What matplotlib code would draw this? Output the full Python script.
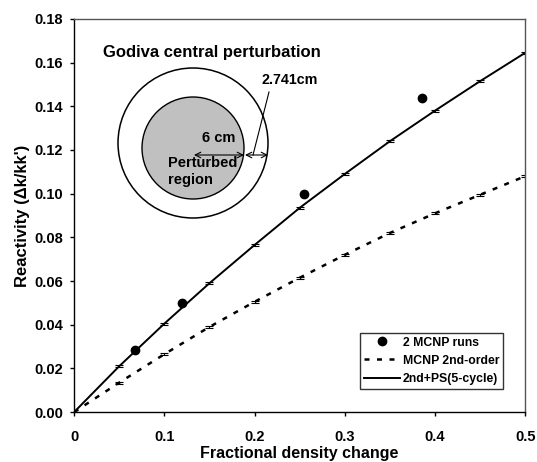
import numpy as np
import matplotlib
matplotlib.use("Agg")
import matplotlib.pyplot as plt
from matplotlib.patches import Circle

plt.rcParams['font.family'] = ['Liberation Sans', 'DejaVu Sans']
plt.rcParams['font.weight'] = 'bold'

# data
frac = [0.0, 0.05, 0.1, 0.15, 0.2, 0.25, 0.3, 0.35, 0.4, 0.45, 0.5]
ps5 = [0.0, 0.021, 0.0405, 0.059, 0.0765, 0.0935, 0.109, 0.124, 0.138, 0.1515, 0.1645]
second = [0.0, 0.0135, 0.0265, 0.039, 0.0505, 0.0615, 0.072, 0.082, 0.091, 0.0995, 0.108]
err = [0.0, 0.0005, 0.0005, 0.0005, 0.0005, 0.0005, 0.0005, 0.0005, 0.0005, 0.0005, 0.0005]
mcnp_x = [0.067, 0.12, 0.255, 0.386]
mcnp_y = [0.0285, 0.050, 0.100, 0.1437]

fig = plt.figure(figsize=(5.37, 4.62), dpi=100)
ax = fig.add_axes([0.138, 0.108, 0.840, 0.851])

p1, = ax.plot(mcnp_x, mcnp_y, 'o', color='black', markersize=6, zorder=5)
ax.errorbar(frac, second, yerr=err, fmt='none', ecolor='black', elinewidth=0.8, capsize=3, capthick=0.8)
p2, = ax.plot(frac, second, color='black', lw=1.8, dashes=(2, 3))
ax.errorbar(frac, ps5, yerr=err, fmt='none', ecolor='black', elinewidth=0.8, capsize=3, capthick=0.8)
p3, = ax.plot(frac, ps5, color='black', lw=1.4)

ax.set_xlim(0, 0.5)
ax.set_ylim(0, 0.18)
ax.set_xticks([0, 0.1, 0.2, 0.3, 0.4, 0.5])
ax.set_xticklabels(["0", "0.1", "0.2", "0.3", "0.4", "0.5"])
ax.set_yticks(np.arange(0, 0.181, 0.02))
ax.set_yticklabels(["%.2f" % v for v in np.arange(0, 0.181, 0.02)])
ax.tick_params(labelsize=10.5, length=3, width=1)
ax.tick_params(axis='x', pad=10)
ax.tick_params(axis='y', pad=5)
for lab in ax.get_xticklabels() + ax.get_yticklabels():
    lab.set_fontweight('bold')
for s in ax.spines.values():
    s.set_linewidth(1)
ax.spines['top'].set_color('#555555')
ax.spines['right'].set_color('#555555')
ax.set_xlabel("Fractional density change", fontsize=11.5, fontweight='bold', labelpad=1)
ax.set_ylabel("Reactivity (\u0394k/kk')", fontsize=12, fontweight='bold', labelpad=3)

leg = ax.legend([p1, p2, p3], ["2 MCNP runs", "MCNP 2nd-order", "2nd+PS(5-cycle)"],
                loc='lower right', bbox_to_anchor=(0.951, 0.06), fontsize=8.8, frameon=True,
                fancybox=False, edgecolor='black', handlelength=3.0, borderpad=0.3,
                labelspacing=0.5, handletextpad=0.2, borderaxespad=0)
leg.get_frame().set_linewidth(1)
for t in leg.get_texts():
    t.set_fontweight('bold')

# inset schematic, drawn in pixel coordinates on an overlay
ov = fig.add_axes([0, 0, 1, 1])
ov.set_xlim(0, 537)
ov.set_ylim(462, 0)
ov.axis('off')
ov.add_patch(Circle((193, 143), 75, facecolor='none', edgecolor='black', lw=1.1))
ov.add_patch(Circle((193, 148), 51, facecolor='#c0c0c0', edgecolor='black', lw=1.0))
ov.text(103, 52, "Godiva central perturbation", fontsize=12, fontweight='bold', va='center', ha='left')
ov.text(262, 80, "2.741cm", fontsize=10.3, fontweight='bold', va='center', ha='left')
ov.plot([269, 253], [92, 155], color='black', lw=0.8)
ov.annotate("", xy=(244, 155), xytext=(194, 155),
            arrowprops=dict(arrowstyle='<->', lw=0.8, color='black', shrinkA=0, shrinkB=0))
ov.annotate("", xy=(268, 155), xytext=(245, 155),
            arrowprops=dict(arrowstyle='<->', lw=0.8, color='black', shrinkA=0, shrinkB=0))
ov.text(202, 138, "6 cm", fontsize=10.5, fontweight='bold', va='center', ha='left')
ov.text(168, 163, "Perturbed", fontsize=10.5, fontweight='bold', va='center', ha='left')
ov.text(168, 180, "region", fontsize=10.5, fontweight='bold', va='center', ha='left')

fig.savefig("out.png", dpi=100)
